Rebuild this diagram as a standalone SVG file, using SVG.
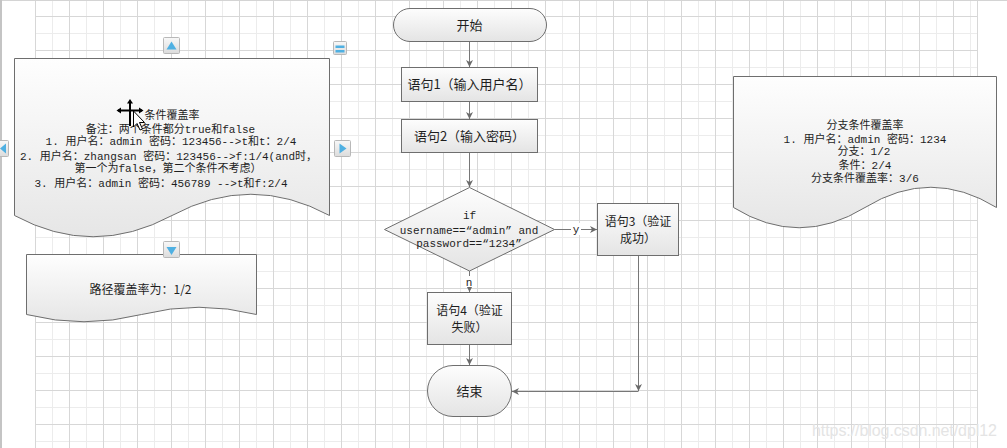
<svg xmlns="http://www.w3.org/2000/svg" width="1007" height="448" viewBox="0 0 1007 448">
<style>
.box{fill:url(#bg);stroke:#6e6e6e;stroke-width:1}
.doc{fill:url(#dg);stroke:#6e6e6e;stroke-width:1}
.edge{fill:none;stroke:#777;stroke-width:1}
.t13{font-family:"Noto Sans CJK SC","Noto Sans",sans-serif;font-size:13px;fill:#1e1e1e;text-anchor:middle}
.t12{font-family:"Noto Sans CJK SC","Noto Sans",sans-serif;font-size:12px;fill:#1e1e1e;text-anchor:middle}
.t11{font-family:"Liberation Mono","Noto Sans CJK SC",monospace;font-size:11px;fill:#1e1e1e;text-anchor:middle}
.icon{fill:url(#ig);stroke:#b8b8b8;stroke-width:1}
.tri{fill:#4fb0e2}
</style>
<defs>
<pattern id="grid" patternUnits="userSpaceOnUse" x="35" y="16" width="34" height="34">
<rect x="17" y="0" width="1" height="34" fill="#ececec"/>
<rect x="0" y="17" width="34" height="1" fill="#ececec"/>
<rect x="0" y="0" width="1" height="34" fill="#d7d7d7"/>
<rect x="0" y="0" width="34" height="1" fill="#d7d7d7"/>
</pattern>
<linearGradient id="bg" x1="0" y1="0" x2="0" y2="1">
<stop offset="0" stop-color="#fdfdfd"/><stop offset="1" stop-color="#e4e4e4"/>
</linearGradient>
<linearGradient id="dg" x1="0" y1="0" x2="0" y2="1">
<stop offset="0" stop-color="#fefefe"/><stop offset="1" stop-color="#e6e6e6"/>
</linearGradient>
<linearGradient id="ig" x1="0" y1="0" x2="0" y2="1">
<stop offset="0" stop-color="#f8f8f8"/><stop offset="1" stop-color="#dcdcdc"/>
</linearGradient>
<marker id="arr" markerUnits="userSpaceOnUse" markerWidth="10" markerHeight="10" refX="8" refY="5" orient="auto">
<path d="M1,1.5 L8,5 L1,8.5 L3,5 z" fill="#6a6a6a"/>
</marker>
</defs>

<!-- canvas -->
<rect x="0" y="0" width="1007" height="448" fill="#ffffff"/>
<rect x="35" y="0" width="942" height="448" fill="url(#grid)"/>
<rect x="977" y="0" width="1" height="448" fill="#d7d7d7"/>
<rect x="0" y="0" width="1007" height="1" fill="#d4d4d4"/>
<rect x="0" y="0" width="2" height="448" fill="#c4c4c4"/>

<!-- connectors -->
<g id="connectors">
<path class="edge" d="M469.5,41.5 V67" marker-end="url(#arr)"/>
<path class="edge" d="M469.5,101.5 V119" marker-end="url(#arr)"/>
<path class="edge" d="M469.5,152.5 V187" marker-end="url(#arr)"/>
<path class="edge" d="M554.5,229.5 H597" marker-end="url(#arr)"/>
<rect x="571" y="223" width="10" height="12" fill="#ffffff"/>
<text class="t11" x="576" y="232.5">y</text>
<path class="edge" d="M469.5,271 V292" marker-end="url(#arr)"/>
<rect x="464" y="276" width="11" height="11" fill="#ffffff"/>
<text class="t11" x="469" y="285.5">n</text>
<path class="edge" d="M469.5,344.5 V365" marker-end="url(#arr)"/>
<path class="edge" d="M638.5,255.5 V391" marker-end="url(#arr)"/>
<path class="edge" d="M638.5,391.5 H512" marker-end="url(#arr)"/>
</g>

<!-- nodes -->
<g id="start">
<rect class="box" x="393.5" y="8.5" width="153" height="33" rx="16.5" ry="16.5"/>
<text class="t13" x="469.5" y="29.5">开始</text>
</g>
<g id="step1">
<rect class="box" x="401.5" y="67.5" width="136" height="34"/>
<text class="t13" x="469.5" y="89">语句1（输入用户名）</text>
</g>
<g id="step2">
<rect class="box" x="401.5" y="119.5" width="136" height="33"/>
<text class="t13" x="469.5" y="140.5">语句2（输入密码）</text>
</g>
<g id="decision">
<polygon class="box" points="469.5,187.5 554.5,229.5 469.5,271 384.5,229.5"/>
<text class="t11" x="469.5" y="219">if<tspan x="469" dy="14.5">username==“admin”  and</tspan><tspan x="469" dy="13.5">password==“1234”</tspan></text>
</g>
<g id="step3">
<rect class="box" x="597.5" y="203.5" width="81" height="52"/>
<text class="t12" x="638" y="225.5">语句3（验证<tspan x="638" dy="17.5">成功）</tspan></text>
</g>
<g id="step4">
<rect class="box" x="427.5" y="292.5" width="84" height="52"/>
<text class="t12" x="469.5" y="314.5">语句4（验证<tspan x="469.5" dy="17.5">失败）</tspan></text>
</g>
<g id="end">
<rect class="box" x="427.5" y="365.5" width="84" height="51" rx="25.5" ry="25.5"/>
<text class="t13" x="469.5" y="395.5">结束</text>
</g>

<g id="condition-note">
<path class="doc" d="M14.5,58.5 H329.5 V215.5 Q251,173 172,215.5 T14.5,215.5 Z"/>
<text class="t11" x="172" y="119">条件覆盖率</text>
<text class="t11" x="170.5" y="132.5">备注：两个条件都分true和false</text>
<text class="t11" x="171" y="145">1. 用户名：admin 密码：123456--&gt;t和t：2/4</text>
<text class="t11" x="168.5" y="159.5">2. 用户名：zhangsan 密码：123456--&gt;f:1/4(and时，</text>
<text class="t11" x="168" y="171.5">第一个为false，第二个条件不考虑）</text>
<text class="t11" x="161" y="186.5">3. 用户名：admin 密码：456789 --&gt;t和f:2/4</text>
</g>

<g id="path-note">
<path class="doc" d="M26.5,254.5 H256.5 V314.5 Q199,300 141.5,314.5 T26.5,314.5 Z"/>
<text class="t12" x="140.5" y="293.5">路径覆盖率为：1/2</text>
</g>

<g id="branch-note">
<path class="doc" d="M733.5,76.5 H996.5 V207.5 Q931,167 865,207.5 T733.5,207.5 Z"/>
<text class="t11" x="865" y="129">分支条件覆盖率</text>
<text class="t11" x="865" y="143.3">1. 用户名：admin 密码：1234</text>
<text class="t11" x="864" y="155.3">分支：1/2</text>
<text class="t11" x="865" y="169.3">条件：2/4</text>
<text class="t11" x="865" y="182.3">分支条件覆盖率：3/6</text>
</g>

<!-- editor handles -->
<g id="handles">
<rect class="icon" x="163.5" y="37.5" width="16" height="16" rx="1"/>
<polygon class="tri" points="171.5,41.5 166.5,49.5 176.5,49.5"/>
<rect class="icon" x="333.5" y="41.5" width="13" height="13" rx="1"/>
<rect x="335.5" y="45.5" width="9" height="2.5" fill="#4fb0e2"/>
<rect x="335.5" y="50" width="9" height="2.5" fill="#4fb0e2"/>
<rect class="icon" x="-7.5" y="140.5" width="16" height="16" rx="1"/>
<polygon class="tri" points="0,148.5 6,143.5 6,153.5"/>
<rect class="icon" x="334.5" y="140.5" width="16" height="16" rx="1"/>
<polygon class="tri" points="346.5,148.5 339.5,143.5 339.5,153.5"/>
<rect class="icon" x="163.5" y="241.5" width="16" height="16" rx="1"/>
<polygon class="tri" points="171.5,255 166.5,247 176.5,247"/>
</g>

<!-- mouse cursor -->
<g id="cursor">
<path d="M130,101 V126 M118,110.5 H142" stroke="#000" stroke-width="2" fill="none"/>
<polygon points="130,99 127,103.5 133,103.5" fill="#000"/>
<polygon points="116.5,110.5 121,107.5 121,113.5" fill="#000"/>
<polygon points="143.5,110.5 139,107.5 139,113.5" fill="#000"/>
<polygon points="133.5,111 133.5,127 137,123.5 140,130 142.5,129 139.5,122.5 144.5,122.5" fill="#fff" stroke="#000" stroke-width="1"/>
</g>

<text x="997" y="436" font-family="Liberation Sans, Arial, sans-serif" font-size="16" fill="#e4e4e4" text-anchor="end" textLength="185">https://blog.csdn.net/dpl12</text>
</svg>
